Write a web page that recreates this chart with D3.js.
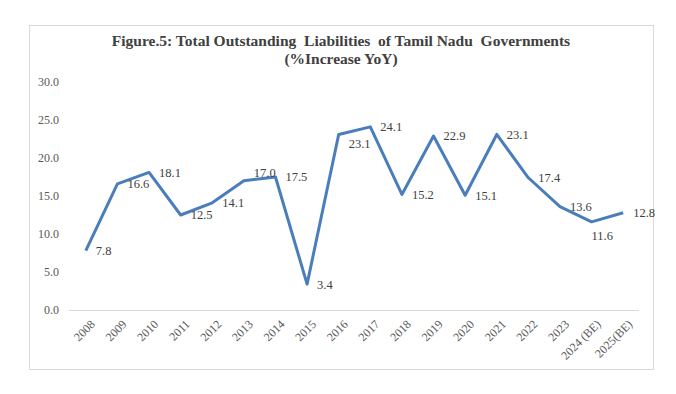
<!DOCTYPE html>
<html>
<head>
<meta charset="utf-8">
<script src="https://cdn.jsdelivr.net/npm/d3@7"></script>
<style>
  body { margin: 0; background: #fff; }
  text { font-family: "Liberation Serif", "Times New Roman", serif; }
</style>
</head>
<body>
<svg id="chart"></svg>
<script>
var w = 676,
    h = 394;

var years = ["2008", "2009", "2010", "2011", "2012", "2013", "2014", "2015", "2016",
    "2017", "2018", "2019", "2020", "2021", "2022", "2023", "2024 (BE)", "2025(BE)"];
var growth = [7.8, 16.6, 18.1, 12.5, 14.1, 17.0, 17.5, 3.4, 23.1,
    24.1, 15.2, 22.9, 15.1, 23.1, 17.4, 13.6, 11.6, 12.8];
var yTicks = [0, 5, 10, 15, 20, 25, 30];
var titleLines = ["Figure.5: Total Outstanding  Liabilities  of Tamil Nadu  Governments",
    "(%Increase YoY)"];

// labels that were nudged off the default "right" spot
var labelShift = { "2013": [0, -8], "2016": [0, 9], "2024 (BE)": [-10, 14] };

var svg = d3.select("#chart")
    .attr("width", w)
    .attr("height", h);

// outer chart frame
svg.append("rect")
    .attr("x", 29.5)
    .attr("y", 25.5)
    .attr("width", 624)
    .attr("height", 344)
    .attr("fill", "#fff")
    .attr("stroke", "#d9d9d9");

var pLeft = 70, pRight = 639, pTop = 82, pBottom = 310;

var x = d3.scalePoint()
    .domain(years)
    .range([pLeft, pRight])
    .padding(0.5);

var y = d3.scaleLinear()
    .domain([0, 30])
    .range([pBottom, pTop]);

// title
svg.append("text")
    .attr("text-anchor", "middle")
    .attr("fill", "#404040")
    .style("font-size", "15.5px")
    .style("font-weight", "bold")
    .style("white-space", "pre")
    .selectAll("tspan")
    .data(titleLines)
    .enter().append("tspan")
    .attr("x", 341)
    .attr("y", (d, i) => 46 + i * 18)
    .text(d => d);

// y axis labels
svg.append("g")
    .selectAll("text")
    .data(yTicks)
    .enter().append("text")
    .attr("x", 59)
    .attr("y", d => y(d))
    .attr("dy", "0.35em")
    .attr("text-anchor", "end")
    .attr("fill", "#595959")
    .style("font-size", "12px")
    .text(d => d3.format(".1f")(d));

// baseline
svg.append("line")
    .attr("x1", pLeft - 1)
    .attr("x2", pRight)
    .attr("y1", y(0) + 0.5)
    .attr("y2", y(0) + 0.5)
    .attr("stroke", "#d9d9d9");

// x labels, rotated
svg.append("g")
    .selectAll("text")
    .data(years)
    .enter().append("text")
    .attr("transform", d => "translate(" + (x(d) + 4) + "," + (y(0) + 9) + ") rotate(-45)")
    .attr("text-anchor", "end")
    .attr("dy", "0.7em")
    .attr("fill", "#595959")
    .style("font-size", "12px")
    .text(d => d);

var line = d3.line()
    .x((d, i) => x(years[i]))
    .y(d => y(d));

svg.append("path")
    .datum(growth)
    .attr("d", line)
    .attr("fill", "none")
    .attr("stroke", "#4a7ebb")
    .attr("stroke-width", 3)
    .attr("stroke-linejoin", "round");

// data labels
svg.append("g")
    .selectAll("text")
    .data(growth)
    .enter().append("text")
    .attr("x", (d, i) => x(years[i]) + 10 + (labelShift[years[i]] ? labelShift[years[i]][0] : 0))
    .attr("y", (d, i) => y(d) + (labelShift[years[i]] ? labelShift[years[i]][1] : 0))
    .attr("dy", "0.35em")
    .attr("fill", "#404040")
    .style("font-size", "12.5px")
    .text(d => d3.format(".1f")(d));
</script>
</body>
</html>
